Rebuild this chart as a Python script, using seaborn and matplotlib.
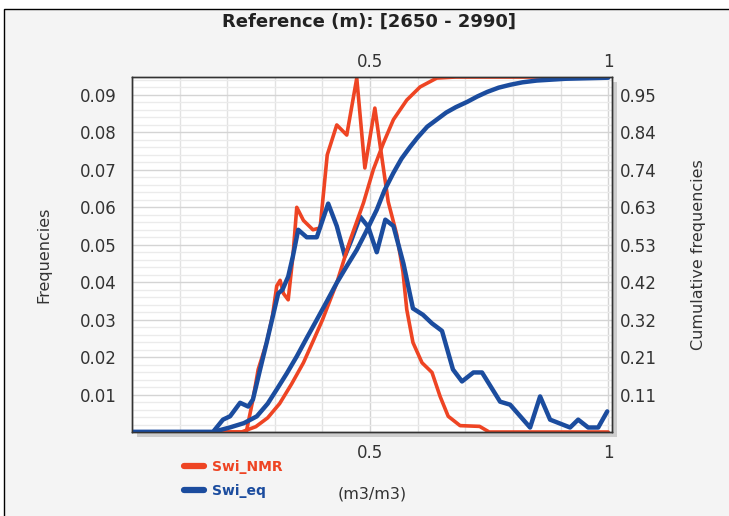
import numpy as np
import pandas as pd
import matplotlib
matplotlib.use("Agg")
import matplotlib.pyplot as plt
import seaborn as sns
from matplotlib.patches import Rectangle
from matplotlib.lines import Line2D
from matplotlib.ticker import MultipleLocator, FixedLocator, FuncFormatter

# ---------------- data ----------------
title = "Reference (m): [2650 - 2990]"
series_names = ["Swi_NMR", "Swi_eq"]
x_label = "(m3/m3)"
y_label_left = "Frequencies"
y_label_right = "Cumulative frequencies"

nmr_freq_x = [0.0, 0.24, 0.244, 0.254, 0.265, 0.283, 0.295, 0.304, 0.311, 0.318, 0.328,
              0.338, 0.346, 0.36, 0.38, 0.395, 0.41, 0.43, 0.451, 0.472, 0.489, 0.51,
              0.52, 0.538, 0.556, 0.569, 0.577, 0.59, 0.609, 0.63, 0.647, 0.664, 0.689,
              0.73, 0.75, 1.0]
nmr_freq_y = [0.0, 0.0, 0.0025, 0.0087, 0.0167, 0.024, 0.031, 0.039, 0.0405, 0.037, 0.0353,
              0.047, 0.060, 0.0565, 0.054, 0.0545, 0.074, 0.082, 0.0793, 0.0945, 0.0705, 0.0865,
              0.0775, 0.0615, 0.0527, 0.0428, 0.0327, 0.0239, 0.0185, 0.0159, 0.0095, 0.0042, 0.0017,
              0.0015, 0.0, 0.0]

eq_freq_x = [0.0, 0.17, 0.191, 0.206, 0.227, 0.244, 0.254, 0.269, 0.283, 0.307, 0.316,
             0.328, 0.338, 0.349, 0.367, 0.388, 0.412, 0.43, 0.447, 0.46, 0.479, 0.496,
             0.514, 0.532, 0.549, 0.57, 0.59, 0.611, 0.63, 0.651, 0.674, 0.693, 0.717,
             0.735, 0.773, 0.794, 0.836, 0.857, 0.878, 0.92, 0.937, 0.958, 0.979, 0.998]
eq_freq_y = [0.0, 0.0, 0.0033, 0.0042, 0.0078, 0.0068, 0.0087, 0.0167, 0.024, 0.037, 0.038,
             0.0415, 0.047, 0.054, 0.052, 0.052, 0.061, 0.055, 0.047, 0.051, 0.0575, 0.0548,
             0.048, 0.0567, 0.055, 0.045, 0.033, 0.0313, 0.029, 0.027, 0.0167, 0.0135, 0.0159,
             0.0159, 0.0081, 0.0073, 0.0012, 0.0095, 0.0033, 0.0012, 0.0033, 0.0012, 0.0012, 0.0055]

nmr_cum_x = [0.0, 0.23, 0.26, 0.285, 0.31, 0.335, 0.36, 0.38, 0.40, 0.43, 0.458, 0.486,
             0.507, 0.528, 0.549, 0.577, 0.605, 0.64, 0.68, 1.0]
nmr_cum_y = [0.0, 0.0, 0.015, 0.04, 0.08, 0.135, 0.195, 0.255, 0.316, 0.42, 0.54, 0.645,
             0.74, 0.814, 0.88, 0.935, 0.972, 0.997, 1.0, 1.0]

eq_cum_x = [0.0, 0.17, 0.206, 0.235, 0.262, 0.285, 0.304, 0.325, 0.346, 0.367, 0.388, 0.41,
            0.43, 0.45, 0.472, 0.49, 0.514, 0.53, 0.549, 0.566, 0.584, 0.60, 0.62, 0.64,
            0.66, 0.68, 0.704, 0.725, 0.746, 0.77, 0.794, 0.82, 0.85, 0.91, 1.0]
eq_cum_y = [0.0, 0.0, 0.013, 0.025, 0.044, 0.08, 0.12, 0.165, 0.213, 0.265, 0.316, 0.37,
            0.42, 0.465, 0.513, 0.56, 0.626, 0.68, 0.73, 0.77, 0.803, 0.83, 0.86, 0.88,
            0.90, 0.915, 0.93, 0.945, 0.958, 0.97, 0.978, 0.985, 0.99, 0.995, 0.998]

freq_ticks = [0.01, 0.02, 0.03, 0.04, 0.05, 0.06, 0.07, 0.08, 0.09]
x_ticks = [0.5, 1.0]

# ---------------- styling ----------------
RED = "#EE4423"
BLUE = "#1B4C9E"
TXT = "#333333"

sns.set_style("white")
plt.rcParams["font.family"] = ["DejaVu Sans"]

W, H = 729, 516
fig = plt.figure(figsize=(W / 100, H / 100), dpi=100)
fig.patch.set_facecolor("white")

# outer panel frame
fig.add_artist(Rectangle((4 / W, -0.2), 1.2, (H - 9) / H + 0.2, transform=fig.transFigure,
                         facecolor="#f4f4f4", edgecolor="black", linewidth=1.0, zorder=0))

L, R, T, B = 132, 612, 77, 432
ax = fig.add_axes([L / W, 1 - B / H, (R - L) / W, (B - T) / H])
ax.set_zorder(2)

# drop shadow of plot area
fig.add_artist(Rectangle(((L + 5) / W, 1 - (B + 5) / H), (R - L) / W, (B - T) / H,
                         transform=fig.transFigure, facecolor="#cdcdcd",
                         edgecolor="none", zorder=1))

df_nmr = pd.DataFrame({"x": nmr_freq_x, "y": nmr_freq_y})
df_eq = pd.DataFrame({"x": eq_freq_x, "y": eq_freq_y})
df_nmr_c = pd.DataFrame({"x": nmr_cum_x, "y": nmr_cum_y})
df_eq_c = pd.DataFrame({"x": eq_cum_x, "y": eq_cum_y})

sns.lineplot(data=df_nmr, x="x", y="y", ax=ax, color=RED, linewidth=2.6, sort=False, estimator=None)
sns.lineplot(data=df_eq, x="x", y="y", ax=ax, color=BLUE, linewidth=3.2, sort=False, estimator=None)

ymax_freq = 0.0948
ax.set_xlim(0, 1.008)
ax.set_ylim(0, ymax_freq)

ax2 = ax.twinx()
sns.lineplot(data=df_nmr_c, x="x", y="y", ax=ax2, color=RED, linewidth=2.6, sort=False, estimator=None)
sns.lineplot(data=df_eq_c, x="x", y="y", ax=ax2, color=BLUE, linewidth=3.2, sort=False, estimator=None)
ax2.set_ylim(0, 1.0)
ax2.set_xlim(0, 1.008)

# grid
ax.xaxis.set_major_locator(FixedLocator(x_ticks))
ax.xaxis.set_minor_locator(MultipleLocator(0.1))
ax.yaxis.set_major_locator(FixedLocator(freq_ticks))
ax.yaxis.set_minor_locator(MultipleLocator(0.002))
ax.grid(which="major", axis="both", color="#d4d4d4", linewidth=1.0)
ax.grid(which="minor", axis="y", color="#ebebeb", linewidth=1.0)
ax.grid(which="minor", axis="x", color="#e2e2e2", linewidth=1.0)
ax.set_axisbelow(True)

ax.set_xticklabels(["0.5", "1"])
ax.set_yticklabels([f"{v:.2f}" for v in freq_ticks])
ax.tick_params(axis="both", which="both", length=0, labelsize=12, labelcolor=TXT)
ax.tick_params(axis="y", pad=11)
ax.tick_params(axis="x", pad=9)

# right axis ticks aligned with left gridlines
right_pos = [v / ymax_freq for v in freq_ticks]
ax2.yaxis.set_major_locator(FixedLocator(right_pos))
ax2.yaxis.set_major_formatter(FuncFormatter(lambda v, p: f"{v:.2f}"))
ax2.tick_params(axis="y", length=0, labelsize=12, labelcolor=TXT, pad=6)
ax2.set_xlabel("")

# top axis labels
top = ax.secondary_xaxis("top")
top.set_xticks(x_ticks)
top.set_xticklabels(["0.5", "1"])
top.tick_params(length=0, labelsize=12, labelcolor=TXT, pad=4)
for sp in top.spines.values():
    sp.set_visible(False)

for a in (ax, ax2):
    for sp in a.spines.values():
        sp.set_color("#333333")
        sp.set_linewidth(1.0)

ax.set_xlabel(x_label, fontsize=11.5, color=TXT)
ax.xaxis.set_label_coords(0.5, -0.153)
ax.xaxis.label.set_va("top")
ax.set_ylabel(y_label_left, fontsize=11.5, color=TXT)
ax.yaxis.set_label_coords(-0.168, 0.5)
ax2.set_ylabel(y_label_right, fontsize=11.5, color=TXT)
ax2.yaxis.set_label_coords(1.165, 0.5)

fig.text(369 / W, 1 - 22 / H, title, ha="center", va="center", fontsize=13,
         fontweight="bold", color="#222222")

handles = [Line2D([], [], color=RED, linewidth=4.5), Line2D([], [], color=BLUE, linewidth=4.5)]
fig.legend(handles, series_names, loc="upper left", bbox_to_anchor=(184 / W, 1 - 460 / H),
           frameon=False, prop={"size": 10, "weight": "bold"}, labelcolor=[RED, BLUE],
           handlelength=1.45, handletextpad=0.6, labelspacing=0.7, borderpad=0,
           borderaxespad=0)

fig.savefig("out.png", dpi=100)
